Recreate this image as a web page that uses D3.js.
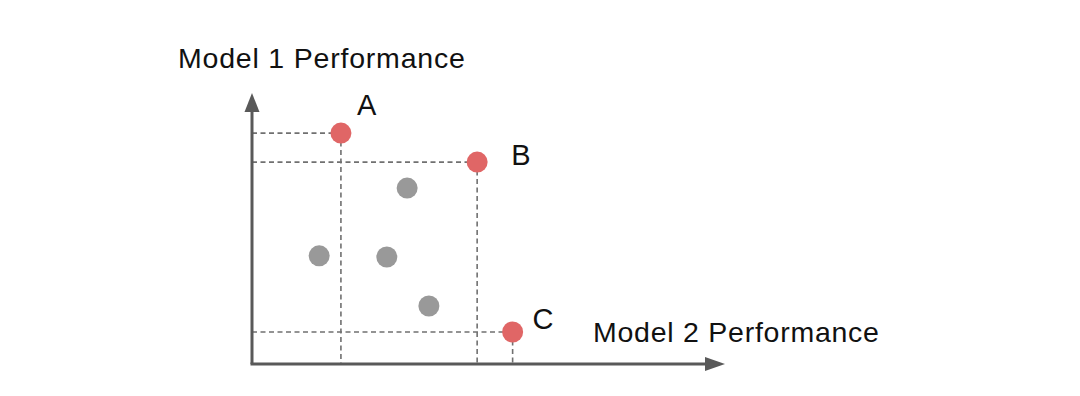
<!DOCTYPE html>
<html>
<head>
<meta charset="utf-8">
<script src="https://cdn.jsdelivr.net/npm/d3@7"></script>
<style>
  body { margin: 0; background: #fff; }
  text { font-family: "Liberation Sans", Arial, sans-serif; fill: #111; }
</style>
</head>
<body>
<div id="chart"></div>
<script>
// highlighted (red) points with labels
var redNames = ["A", "B", "C"];
var redX = [1.88, 4.76, 5.51];
var redY = [8.52, 7.45, 1.18];
// label offsets (px) from each red point
var labelDx = [16, 34, 20];
var labelDy = [-18, 3, -3];
// other (gray) points
var grayX = [3.28, 1.42, 2.85, 3.74];
var grayY = [6.49, 3.99, 3.95, 2.14];

var width = 1080, height = 396;
var origin = {x: 252, y: 364};

var x = d3.scaleLinear().domain([0, 10]).range([origin.x, 725]);
var y = d3.scaleLinear().domain([0, 10]).range([origin.y, 93]);

var svg = d3.select("#chart").append("svg")
    .attr("width", width)
    .attr("height", height);

var red = redNames.map((n, i) => ({name: n, x: redX[i], y: redY[i], dx: labelDx[i], dy: labelDy[i]}));
var gray = grayX.map((v, i) => ({x: v, y: grayY[i]}));

// dashed guide lines
var guides = svg.append("g")
    .attr("stroke", "#707070")
    .attr("stroke-width", 1.6)
    .attr("stroke-dasharray", "5,3.5");

guides.selectAll("line.h").data(red).enter().append("line")
    .attr("x1", x(0)).attr("x2", d => x(d.x))
    .attr("y1", d => y(d.y)).attr("y2", d => y(d.y));

guides.selectAll("line.v").data(red).enter().append("line")
    .attr("x1", d => x(d.x)).attr("x2", d => x(d.x))
    .attr("y1", d => y(d.y)).attr("y2", y(0));

// axes with arrows
var axisColor = "#595959";
svg.append("line")
    .attr("x1", x(0)).attr("y1", y(0))
    .attr("x2", x(0)).attr("y2", y(10) + 18)
    .attr("stroke", axisColor).attr("stroke-width", 3);
svg.append("path")
    .attr("d", d3.line()([[x(0) - 7.5, y(10) + 19], [x(0), y(10)], [x(0) + 7.5, y(10) + 19]]) + "Z")
    .attr("fill", axisColor);

svg.append("line")
    .attr("x1", x(0) - 1.5).attr("y1", y(0))
    .attr("x2", x(10) - 18).attr("y2", y(0))
    .attr("stroke", axisColor).attr("stroke-width", 3);
svg.append("path")
    .attr("d", d3.line()([[x(10) - 20, y(0) - 7], [x(10), y(0)], [x(10) - 20, y(0) + 7]]) + "Z")
    .attr("fill", axisColor);

// points
svg.selectAll("circle.gray").data(gray).enter().append("circle")
    .attr("cx", d => x(d.x)).attr("cy", d => y(d.y))
    .attr("r", 10.5).attr("fill", "#999999");

svg.selectAll("circle.red").data(red).enter().append("circle")
    .attr("cx", d => x(d.x)).attr("cy", d => y(d.y))
    .attr("r", 10.5).attr("fill", "#e06666");

// point labels
svg.selectAll("text.lbl").data(red).enter().append("text")
    .attr("x", d => x(d.x) + d.dx)
    .attr("y", d => y(d.y) + d.dy)
    .style("font-size", "29px")
    .text(d => d.name);

// axis titles
svg.append("text")
    .attr("x", 178).attr("y", 68)
    .style("font-size", "28.5px")
    .style("letter-spacing", "0.8px")
    .text("Model 1 Performance");

svg.append("text")
    .attr("x", 593).attr("y", 342)
    .style("font-size", "28.5px")
    .style("letter-spacing", "0.75px")
    .text("Model 2 Performance");
</script>
</body>
</html>
